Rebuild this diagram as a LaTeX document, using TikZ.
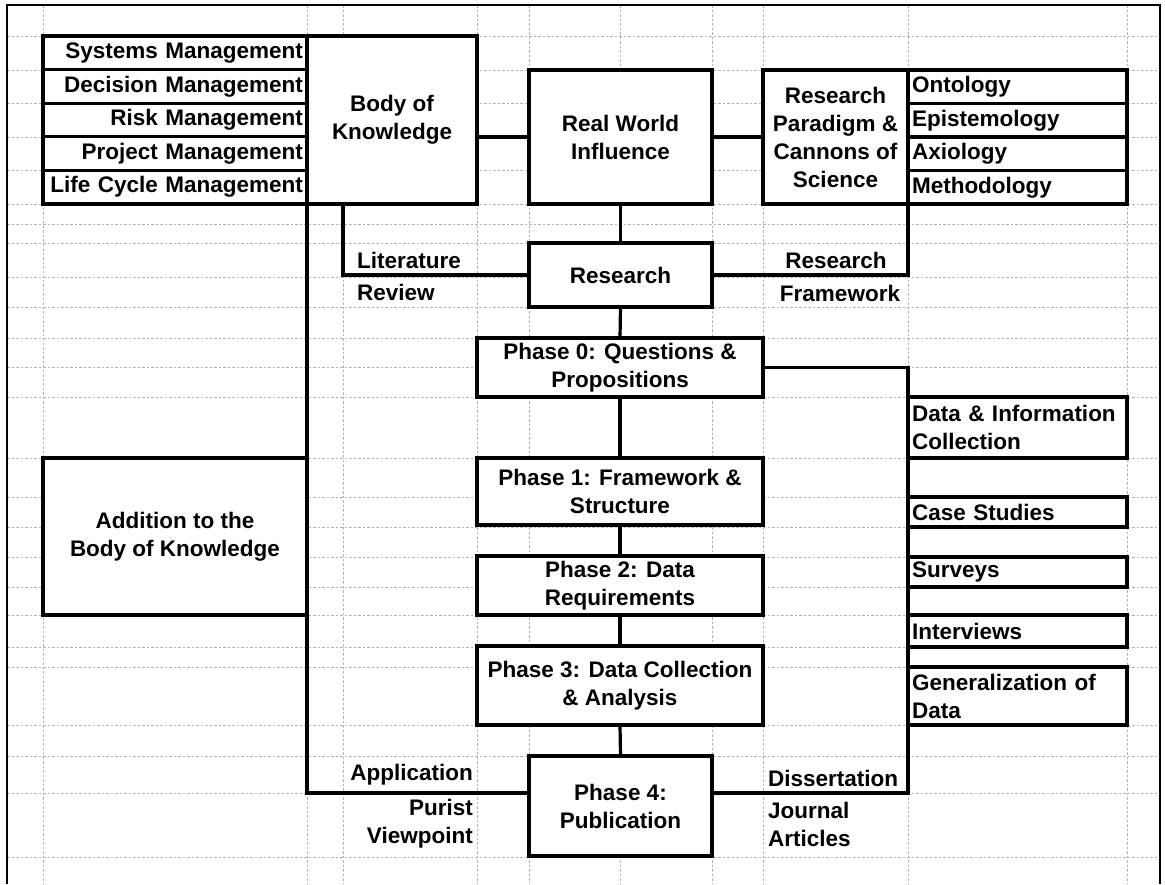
\documentclass[tikz,border=0pt]{standalone}
\usepackage{fontspec}
\setmainfont{Liberation Sans}
\usetikzlibrary{positioning}
\tikzset{
    cell/.style = {draw, fill=white, line width=3.2pt, rectangle, outer sep=0pt, inner sep=0pt, anchor=north west, align=center},
    cell-left/.style = {cell, align=left, inner xsep=4pt, text width=211pt},
    cell-right/.style = {cell, align=right, inner xsep=4pt, text width=256pt},
    link/.style = {line width=3.2pt},
    tag/.style = {inner sep=0pt},
    sheet-grid/.style = {gray!60, line width=0.6pt, dash pattern=on 2.5pt off 2pt},
}

\begin{document}
\begin{tikzpicture}[x=1pt, y=-1pt, font=\bfseries\fontsize{22.5}{28}\selectfont]
\useasboundingbox (0,0) rectangle (1165,884);
% spreadsheet grid and frame
\foreach \gx in {43,307,343,477,529,620,712,763,908,1127}
    \draw[sheet-grid] (\gx,5) -- (\gx,884);
\foreach \gy in {36,70,103,137,170,204,224,243,277,307,338,367,397,458,497,527,557,587,615,647,667,725,756,793,857}
    \draw[sheet-grid] (7,\gy) -- (1160,\gy);
\draw[line width=1.8pt] (7,884) -- (7,5) -- (1160,5) -- (1160,884);

% management fields
\node[cell-right, minimum height=33.6pt] (sysmgmt) at (43,36) {Systems Management};
\node[cell-right, minimum height=33.6pt, below=0pt of sysmgmt] (decmgmt) {Decision Management};
\node[cell-right, minimum height=33.6pt, below=0pt of decmgmt] (riskmgmt) {Risk Management};
\node[cell-right, minimum height=33.6pt, below=0pt of riskmgmt] (projmgmt) {Project Management};
\node[cell-right, minimum height=33.6pt, below=0pt of projmgmt] (lcmgmt) {Life Cycle Management};

\node[cell, minimum width=170pt, minimum height=168pt] (bok) at (307,36) {Body of\\Knowledge};
\node[cell, minimum width=183pt, minimum height=134pt] (rwi) at (529,70) {Real World\\Influence};
\node[cell, minimum width=145pt, minimum height=134pt] (paradigm) at (763,70) {Research\\Paradigm \&\\Cannons of\\Science};

% philosophy of science
\node[cell-left, minimum height=33.5pt] (ontology) at (908,70) {Ontology};
\node[cell-left, minimum height=33.5pt, below=0pt of ontology] (epistemology) {Epistemology};
\node[cell-left, minimum height=33.5pt, below=0pt of epistemology] (axiology) {Axiology};
\node[cell-left, minimum height=33.5pt, below=0pt of axiology] (methodology) {Methodology};

\node[cell, minimum width=183pt, minimum height=64pt] (research) at (529,243) {Research};

% phases
\node[cell, minimum width=286pt, minimum height=59pt] (p0) at (477,338) {Phase 0: Questions \&\\Propositions};
\node[cell, minimum width=286pt, minimum height=67pt] (p1) at (477,458) {Phase 1: Framework \&\\Structure};
\node[cell, minimum width=286pt, minimum height=59pt] (p2) at (477,556) {Phase 2: Data\\Requirements};
\node[cell, minimum width=286pt, minimum height=79pt] (p3) at (477,646) {Phase 3: Data Collection\\\& Analysis};
\node[cell, minimum width=183pt, minimum height=100pt] (p4) at (529,756) {Phase 4:\\Publication};

\node[cell, minimum width=264pt, minimum height=157pt] (addition) at (43,458) {Addition to the\\Body of Knowledge};

% data sources
\node[cell-left, minimum height=61pt] (datainfo) at (908,397) {Data \& Information\\Collection};
\node[cell-left, minimum height=30pt] (casestudies) at (908,497) {Case Studies};
\node[cell-left, minimum height=30pt] (surveys) at (908,557) {Surveys};
\node[cell-left, minimum height=32pt] (interviews) at (908,615) {Interviews};
\node[cell-left, minimum height=58pt] (generalization) at (908,667) {Generalization of\\Data};

% connectors
\coordinate (diss-turn) at (908,793);
\coordinate (app-turn) at (307,793);
\draw[link] (rwi.west) -- (rwi.west -| bok.east);
\draw[link] (rwi.east) -- (paradigm.west);
\draw[link] (rwi.south) -- (research.north);
\draw[link] ([xshift=36pt]bok.south west) |- (research.west);
\draw[link] (paradigm.south east) |- (research.east);
\draw[link] (research.south) -- (p0.north);
\draw[link] (p0.south) -- (p1.north);
\draw[link] (p1.south) -- (p2.north);
\draw[link] (p2.south) -- (p3.north);
\draw[link] (p3.south) -- (p4.north);
\draw[link] (p0.east) -| (diss-turn) -- (diss-turn -| p4.east);
\draw[link] (bok.south west) -- (app-turn) -- (app-turn -| p4.west);

% labels
\node[tag, anchor=west] (literature) at (357,260) {Literature};
\node[tag, anchor=west] (review) at (357,292) {Review};
\node[tag] (res-label) at (836,260) {Research};
\node[tag] (framework) at (840,293) {Framework};
\node[tag, anchor=east] (application) at (473,775) {Application};
\node[tag, anchor=east, align=right] (purist) at (473,824) {Purist\\Viewpoint};
\node[tag, anchor=west] (dissertation) at (768,778) {Dissertation};
\node[tag, anchor=west, align=left] (journal) at (768,824) {Journal\\Articles};
\end{tikzpicture}
\end{document}
